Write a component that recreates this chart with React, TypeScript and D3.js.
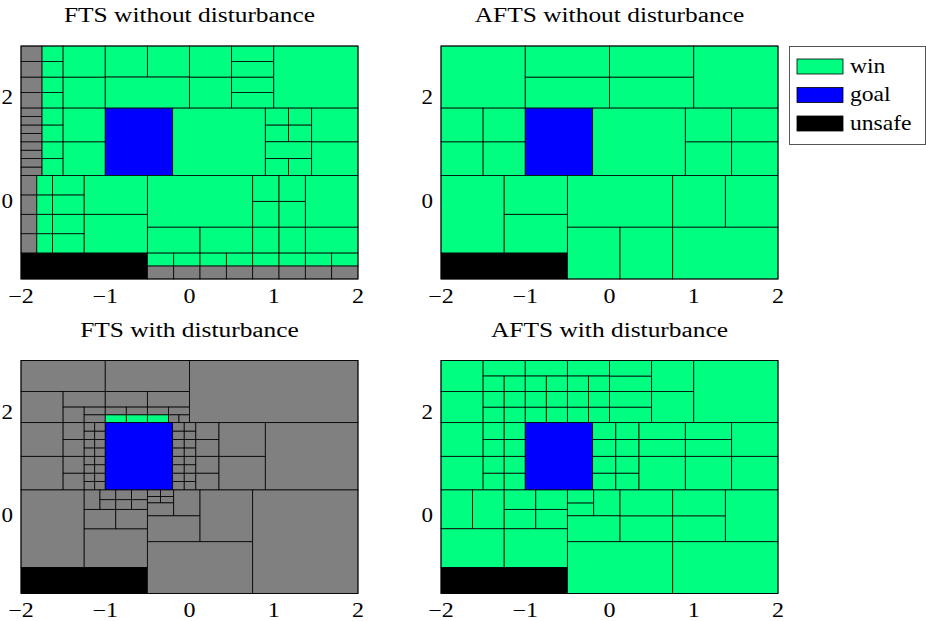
import * as d3 from 'd3'

type Status = 'win' | 'lose' | 'goal' | 'unsafe'
type Cell = [number, number, number, number, Status]

// cells from explicit breakpoints
const grid = (xs: number[], ys: number[], s: Status): Cell[] => {
  const out: Cell[] = []
  for (let i = 0; i < xs.length - 1; i++)
    for (let j = 0; j < ys.length - 1; j++) out.push([xs[i], xs[i + 1], ys[j], ys[j + 1], s])
  return out
}

const X_TICKS = [-2, -1, 0, 1, 2]
const Y_TICKS = [0, 2]
const X_DOMAIN = [-2, 2]
const Y_DOMAIN = [-1.5, 3]

const TITLES = ['FTS without disturbance', 'AFTS without disturbance', 'FTS with disturbance', 'AFTS with disturbance']
const LEGEND: [Status, string][] = [['win', 'win'], ['goal', 'goal'], ['unsafe', 'unsafe']]

const GOAL: Cell[] = grid([-1, -0.2], [0.5, 1.8], 'goal')
const UNSAFE: Cell[] = grid([-2, -0.5], [-1.5, -1], 'unsafe')
const ROWS8 = [0.5, 0.6625, 0.825, 0.9875, 1.15, 1.3125, 1.475, 1.6375, 1.8]
const ROWS4 = [0.5, 0.825, 1.15, 1.475, 1.8]
const BOTTOM_COLS = [-0.5, -0.1875, 0.125, 0.4375, 0.75, 1.0625, 1.375, 1.6875, 2]

const ftsNoDist: Cell[] = [
  ...grid([-2, -1.75], [1.8, 2.1, 2.4, 2.7, 3], 'lose'),
  ...grid([-1.75, -1.5], [1.8, 2.1, 2.4, 2.7, 3], 'win'),
  ...grid([-1.5, -1], [1.8, 2.4, 3], 'win'),
  ...grid([-1, -0.5, 0], [2.4, 3], 'win'),
  ...grid([-1, 0], [1.8, 2.4], 'win'),
  ...grid([0, 0.5], [1.8, 2.4, 3], 'win'),
  ...grid([0.5, 1], [1.8, 2.1, 2.4, 2.7, 3], 'win'),
  ...grid([1, 2], [1.8, 3], 'win'),
  ...grid([-2, -1.75], ROWS8, 'lose'),
  ...grid([-1.75, -1.5], ROWS4, 'win'),
  ...grid([-1.5, -1], [0.5, 1.15, 1.8], 'win'),
  ...GOAL,
  ...grid([-0.2, 0.9], [0.5, 1.8], 'win'),
  ...grid([0.9, 1.175, 1.45], [1.15, 1.475, 1.8], 'win'),
  ...grid([0.9, 1.45], [0.825, 1.15], 'win'),
  ...grid([0.9, 1.175, 1.45], [0.5, 0.825], 'win'),
  ...grid([1.45, 2], [0.5, 1.15, 1.8], 'win'),
  ...grid([-2, -1.8125], [-1, -0.625, -0.25, 0.125, 0.5], 'lose'),
  ...grid([-1.8125, -1.625, -1.25], [-1, -0.625, -0.25, 0.125, 0.5], 'win'),
  ...grid([-1.25, -0.5], [-1, -0.25, 0.5], 'win'),
  ...UNSAFE,
  ...grid([-0.5, 0.75], [-0.5, 0.5], 'win'),
  ...grid([0.75, 1.0625, 1.375], [-0.5, 0, 0.5], 'win'),
  ...grid([1.375, 2], [-0.5, 0.5], 'win'),
  ...grid([-0.5, 0.125, 0.75, 1.0625, 1.375, 2], [-1, -0.5], 'win'),
  ...grid(BOTTOM_COLS, [-1.25, -1], 'win'),
  ...grid(BOTTOM_COLS, [-1.5, -1.25], 'lose'),
]

const aftsNoDist: Cell[] = [
  ...grid([-2, -1], [1.8, 3], 'win'),
  ...grid([-1, 0, 1], [1.8, 2.4, 3], 'win'),
  ...grid([1, 2], [1.8, 3], 'win'),
  ...grid([-2, -1.5, -1], [0.5, 1.15, 1.8], 'win'),
  ...GOAL,
  ...grid([-0.2, 0.9], [0.5, 1.8], 'win'),
  ...grid([0.9, 1.45, 2], [0.5, 1.15, 1.8], 'win'),
  ...grid([-2, -1.25], [-1, 0.5], 'win'),
  ...grid([-1.25, -0.5], [-1, -0.25, 0.5], 'win'),
  ...UNSAFE,
  ...grid([-0.5, 0.75], [-0.5, 0.5], 'win'),
  ...grid([-0.5, 0.125, 0.75], [-1.5, -0.5], 'win'),
  ...grid([0.75, 1.375, 2], [-0.5, 0.5], 'win'),
  ...grid([0.75, 2], [-1.5, -0.5], 'win'),
]

const ftsDist: Cell[] = [
  ...grid([-2, -1], [2.4, 3], 'lose'),
  ...grid([-1, 0], [2.4, 3], 'lose'),
  ...grid([0, 2], [1.8, 3], 'lose'),
  ...grid([-2, -1.5], [1.8, 2.4], 'lose'),
  ...grid([-1.5, -1, -0.5, 0], [2.1, 2.4], 'lose'),
  ...grid([-1.5, -1.25], [1.8, 2.1], 'lose'),
  ...grid([-1.25, -1, -0.75, -0.5, -0.25, 0], [1.95, 2.1], 'lose'),
  ...grid([-1.25, -1], [1.8, 1.95], 'lose'),
  ...grid([-1, -0.75, -0.5, -0.25], [1.8, 1.95], 'win'),
  ...grid([-0.25, -0.125, 0], [1.8, 1.95], 'lose'),
  ...grid([-2, -1.5], [0.5, 1.15, 1.8], 'lose'),
  ...grid([-1.5, -1.25], ROWS4, 'lose'),
  ...grid([-1.25, -1.125, -1], ROWS8, 'lose'),
  ...GOAL,
  ...grid([-0.2, -0.0625, 0.075], ROWS8, 'lose'),
  ...grid([0.075, 0.35], ROWS4, 'lose'),
  ...grid([0.35, 0.9], [0.5, 1.15, 1.8], 'lose'),
  ...grid([0.9, 2], [0.5, 1.8], 'lose'),
  ...grid([-2, -1.25], [-1, 0.5], 'lose'),
  ...grid([-1.25, -0.5], [-1, -0.25], 'lose'),
  ...grid([-1.25, -0.875, -0.5], [-0.25, 0.125], 'lose'),
  ...grid([-1.25, -1.0625], [0.125, 0.5], 'lose'),
  ...grid([-1.0625, -0.875, -0.6875, -0.5], [0.125, 0.3125, 0.5], 'lose'),
  ...UNSAFE,
  ...grid([-0.5, -0.34375, -0.1875], [0.25, 0.375, 0.5], 'lose'),
  ...grid([-0.5, -0.1875], [0, 0.25], 'lose'),
  ...grid([-0.1875, 0.125], [0, 0.5], 'lose'),
  ...grid([-0.5, 0.125], [-0.5, 0], 'lose'),
  ...grid([0.125, 0.75], [-0.5, 0.5], 'lose'),
  ...grid([-0.5, 0.75], [-1.5, -0.5], 'lose'),
  ...grid([0.75, 2], [-1.5, 0.5], 'lose'),
]

const aftsDist: Cell[] = [
  ...grid([-2, -1.5], [1.8, 2.4, 3], 'win'),
  ...grid([-1.5, -1, -0.5, 0], [2.7, 3], 'win'),
  ...grid([-1.5, -1.25, -1, -0.75, -0.5, -0.25, 0], [1.8, 2.1, 2.4, 2.7], 'win'),
  ...grid([0, 0.5], [1.8, 2.1, 2.4, 2.7, 3], 'win'),
  ...grid([0.5, 1], [1.8, 2.4, 3], 'win'),
  ...grid([1, 2], [1.8, 3], 'win'),
  ...grid([-2, -1.5], [0.5, 1.15, 1.8], 'win'),
  ...grid([-1.5, -1.25, -1], ROWS4, 'win'),
  ...GOAL,
  ...grid([-0.2, 0.075, 0.35], ROWS4, 'win'),
  ...grid([0.35, 0.9, 1.45], [0.5, 1.15, 1.475, 1.8], 'win'),
  ...grid([1.45, 2], [0.5, 1.15, 1.8], 'win'),
  ...grid([-2, -1.625, -1.25], [-0.25, 0.5], 'win'),
  ...grid([-2, -1.25], [-1, -0.25], 'win'),
  ...grid([-1.25, -0.875, -0.5], [-0.25, 0.125, 0.5], 'win'),
  ...grid([-1.25, -0.5], [-1, -0.25], 'win'),
  ...UNSAFE,
  ...grid([-0.5, -0.1875], [0, 0.25, 0.5], 'win'),
  ...grid([-0.1875, 0.125], [0, 0.5], 'win'),
  ...grid([-0.5, 0.125], [-0.5, 0], 'win'),
  ...grid([0.125, 0.75, 1.375], [-0.5, 0, 0.5], 'win'),
  ...grid([1.375, 2], [-0.5, 0.5], 'win'),
  ...grid([-0.5, 0.75], [-1.5, -0.5], 'win'),
  ...grid([0.75, 2], [-1.5, -0.5], 'win'),
]

const PANELS = [ftsNoDist, aftsNoDist, ftsDist, aftsDist]

const FILL: Record<Status, string> = {
  win: '#00ff80',
  lose: '#808080',
  goal: '#0000ff',
  unsafe: '#000000',
}

const FONT = '"Liberation Serif", "DejaVu Serif", serif'
const W = 337
const H = 233
const OFFSETS = [
  [21, 46],
  [441, 46],
  [21, 360.5],
  [441, 360.5],
]

// serif text stretched a little to get the width of the LaTeX font
function Label({ x, y, sx = 1.22, anchor = 'start', children }: { x: number; y: number; sx?: number; anchor?: string; children: any }) {
  return (
    <text transform={`translate(${x},${y}) scale(${sx},1)`} textAnchor={anchor} fontSize={20} fontFamily={FONT}>
      {children}
    </text>
  )
}

function Panel({ cells, title, left, top }: { cells: Cell[]; title: string; left: number; top: number }) {
  const x = d3.scaleLinear().domain(X_DOMAIN).range([0, W])
  const y = d3.scaleLinear().domain(Y_DOMAIN).range([H, 0])
  const fmt = (v: number) => (v < 0 ? '\u2212' + Math.abs(v) : String(v))
  return (
    <g transform={`translate(${left},${top})`}>
      <Label x={W / 2} y={-24} sx={1.27} anchor="middle">
        {title}
      </Label>
      {cells.map((c, i) => (
        <rect
          key={i}
          x={x(c[0])}
          y={y(c[3])}
          width={x(c[1]) - x(c[0])}
          height={y(c[2]) - y(c[3])}
          fill={FILL[c[4]]}
          stroke="#000"
          strokeWidth={0.8}
        />
      ))}
      <rect x={0} y={0} width={W} height={H} fill="none" stroke="#000" strokeWidth={0.8} />
      {X_TICKS.map(t => (
        <Label key={'x' + t} x={x(t)} y={H + 23.5} sx={1.2} anchor="middle">
          {fmt(t)}
        </Label>
      ))}
      {Y_TICKS.map(t => (
        <Label key={'y' + t} x={-8} y={y(t) + 6.5} sx={1.15} anchor="end">
          {fmt(t)}
        </Label>
      ))}
    </g>
  )
}

export default function App() {
  return (
    <svg width={926} height={621} style={{ position: 'absolute', left: 0, top: 0, background: '#fff' }}>
      {PANELS.map((cells, i) => (
        <Panel key={i} cells={cells} title={TITLES[i]} left={OFFSETS[i][0]} top={OFFSETS[i][1]} />
      ))}
      <g transform="translate(789,46)">
        <rect x={0.5} y={0.5} width={136} height={98} fill="#fff" stroke="#555" strokeWidth={1} />
        {LEGEND.map(([s, label], i) => (
          <g key={s} transform={`translate(0,${13 + i * 28.5})`}>
            <rect x={8} y={0} width={46} height={15} fill={FILL[s]} stroke="#000" strokeWidth={0.8} />
            <Label x={61} y={13.5} sx={1.18}>
              {label}
            </Label>
          </g>
        ))}
      </g>
    </svg>
  )
}
